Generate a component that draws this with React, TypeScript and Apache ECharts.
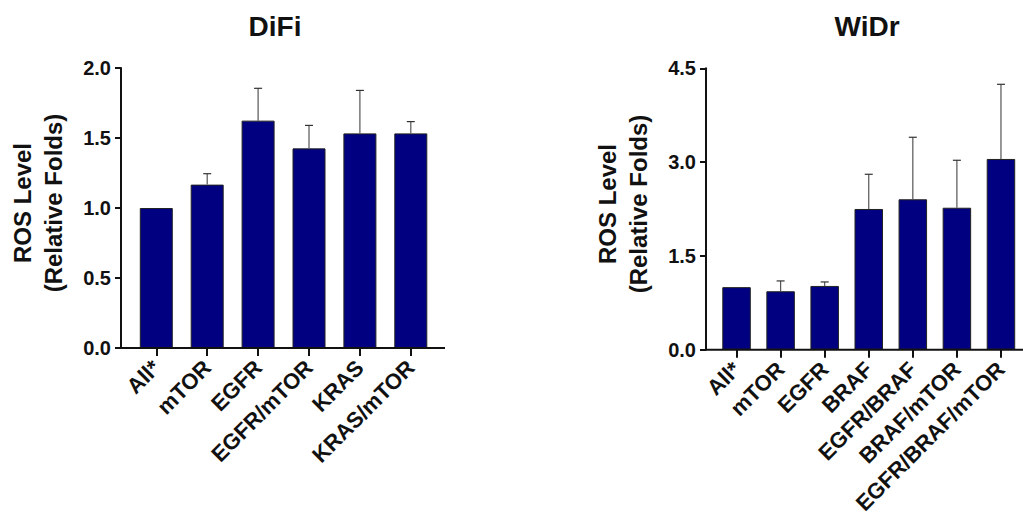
import React, { useEffect, useRef } from "react";
import * as echarts from "echarts";

const difiCategories = ["All*", "mTOR", "EGFR", "EGFR/mTOR", "KRAS", "KRAS/mTOR"];
const difiMeans = [1.0, 1.167, 1.624, 1.426, 1.533, 1.533];
const difiUpper = [1.0, 1.245, 1.855, 1.59, 1.84, 1.617];

const widrCategories = ["All*", "mTOR", "EGFR", "BRAF", "EGFR/BRAF", "BRAF/mTOR", "EGFR/BRAF/mTOR"];
const widrMeans = [1.0, 0.934, 1.019, 2.25, 2.405, 2.27, 3.05];
const widrUpper = [1.0, 1.099, 1.083, 2.805, 3.397, 3.029, 4.244];

const difiTicks = { min: 0, max: 2.0, interval: 0.5 };
const widrTicks = { min: 0, max: 4.5, interval: 1.5 };

const FONT = "Liberation Sans, Arial, Helvetica, sans-serif";
const TXT = "#111111";
const BAR = "#000080";

function errorSeries(gridIndex: number, means: number[], upper: number[]) {
  return {
    type: "custom",
    xAxisIndex: gridIndex,
    yAxisIndex: gridIndex,
    z: 5,
    data: means.map((m, i) => [i, m, upper[i]]),
    renderItem: (params: any, api: any) => {
      const x = api.value(0);
      const v = api.value(1);
      const u = api.value(2);
      if (u <= v) return { type: "group", children: [] };
      const p0 = api.coord([x, v]);
      const p1 = api.coord([x, u]);
      const st = { stroke: "#555555", lineWidth: 1.2 };
      return {
        type: "group",
        children: [
          { type: "line", shape: { x1: p0[0], y1: p0[1], x2: p1[0], y2: p1[1] }, style: st },
          { type: "line", shape: { x1: p1[0] - 4, y1: p1[1], x2: p1[0] + 4, y2: p1[1] }, style: { stroke: "#333333", lineWidth: 1.2 } },
        ],
      };
    },
  };
}

export default function App() {
  const ref = useRef<HTMLDivElement>(null);
  useEffect(() => {
    if (!ref.current) return;
    const chart = echarts.init(ref.current, undefined, { renderer: "svg" });
    const xAxisBase = (cats: string[], gi: number) => ({
      type: "category",
      gridIndex: gi,
      data: cats,
      axisLine: { show: false },
      axisTick: { show: true, alignWithLabel: true, length: 8, lineStyle: { color: "#111", width: 2 } },
      axisLabel: {
        interval: 0,
        rotate: 45,
        margin: 16,
        fontFamily: FONT,
        fontWeight: "bold",
        fontSize: 22,
        color: TXT,
      },
    });
    const yAxisBase = (t: { min: number; max: number; interval: number }, gi: number, offset: number) => ({
      type: "value",
      gridIndex: gi,
      min: t.min,
      max: t.max,
      interval: t.interval,
      offset,
      splitLine: { show: false },
      axisLine: { show: true, lineStyle: { color: "#111", width: 2 } },
      axisTick: { show: true, length: 6, lineStyle: { color: "#111", width: 2 } },
      axisLabel: {
        margin: 10,
        fontFamily: FONT,
        fontWeight: "bold",
        fontSize: 20,
        color: TXT,
        formatter: (v: number) => v.toFixed(1),
      },
    });
    const txt = (text: string, x: number, y: number, size: number, rot = 0) => ({
      type: "text",
      x,
      y,
      rotation: rot,
      style: {
        text,
        fontFamily: FONT,
        fontWeight: "bold",
        fontSize: size,
        lineHeight: 31,
        fill: TXT,
        align: "center",
        verticalAlign: "middle",
      },
    });
    chart.setOption({
      animation: false,
      backgroundColor: "#ffffff",
      grid: [
        { left: 130.85, top: 68, width: 305.4, height: 280 },
        { left: 714.5, top: 68.3, width: 309.9, height: 281.4 },
      ],
      xAxis: [xAxisBase(difiCategories, 0), xAxisBase(widrCategories, 1)],
      yAxis: [yAxisBase(difiTicks, 0, 9.85), yAxisBase(widrTicks, 1, 8.5)],
      series: [
        {
          type: "bar",
          xAxisIndex: 0,
          yAxisIndex: 0,
          data: difiMeans,
          barWidth: 33,
          itemStyle: { color: BAR, borderColor: "#222", borderWidth: 1 },
        },
        errorSeries(0, difiMeans, difiUpper),
        {
          type: "bar",
          xAxisIndex: 1,
          yAxisIndex: 1,
          data: widrMeans,
          barWidth: 28.5,
          itemStyle: { color: BAR, borderColor: "#222", borderWidth: 1 },
        },
        errorSeries(1, widrMeans, widrUpper),
      ],
      graphic: [
        txt("DiFi", 275, 26, 28),
        txt("WiDr", 867, 26, 28),
        txt("ROS Level\n(Relative Folds)", 37.5, 203, 24, Math.PI / 2),
        txt("ROS Level\n(Relative Folds)", 622.5, 204, 24, Math.PI / 2),
        { type: "line", z: 10, shape: { x1: 120, y1: 348, x2: 445, y2: 348 }, style: { stroke: "#111", lineWidth: 2 } },
        { type: "line", z: 10, shape: { x1: 705, y1: 349.7, x2: 1023, y2: 349.7 }, style: { stroke: "#111", lineWidth: 2 } },
      ],
    });
    return () => chart.dispose();
  }, []);
  return (
    <div
      ref={ref}
      style={{ position: "fixed", left: 0, top: 0, width: 1023, height: 517, background: "#fff" }}
    />
  );
}
